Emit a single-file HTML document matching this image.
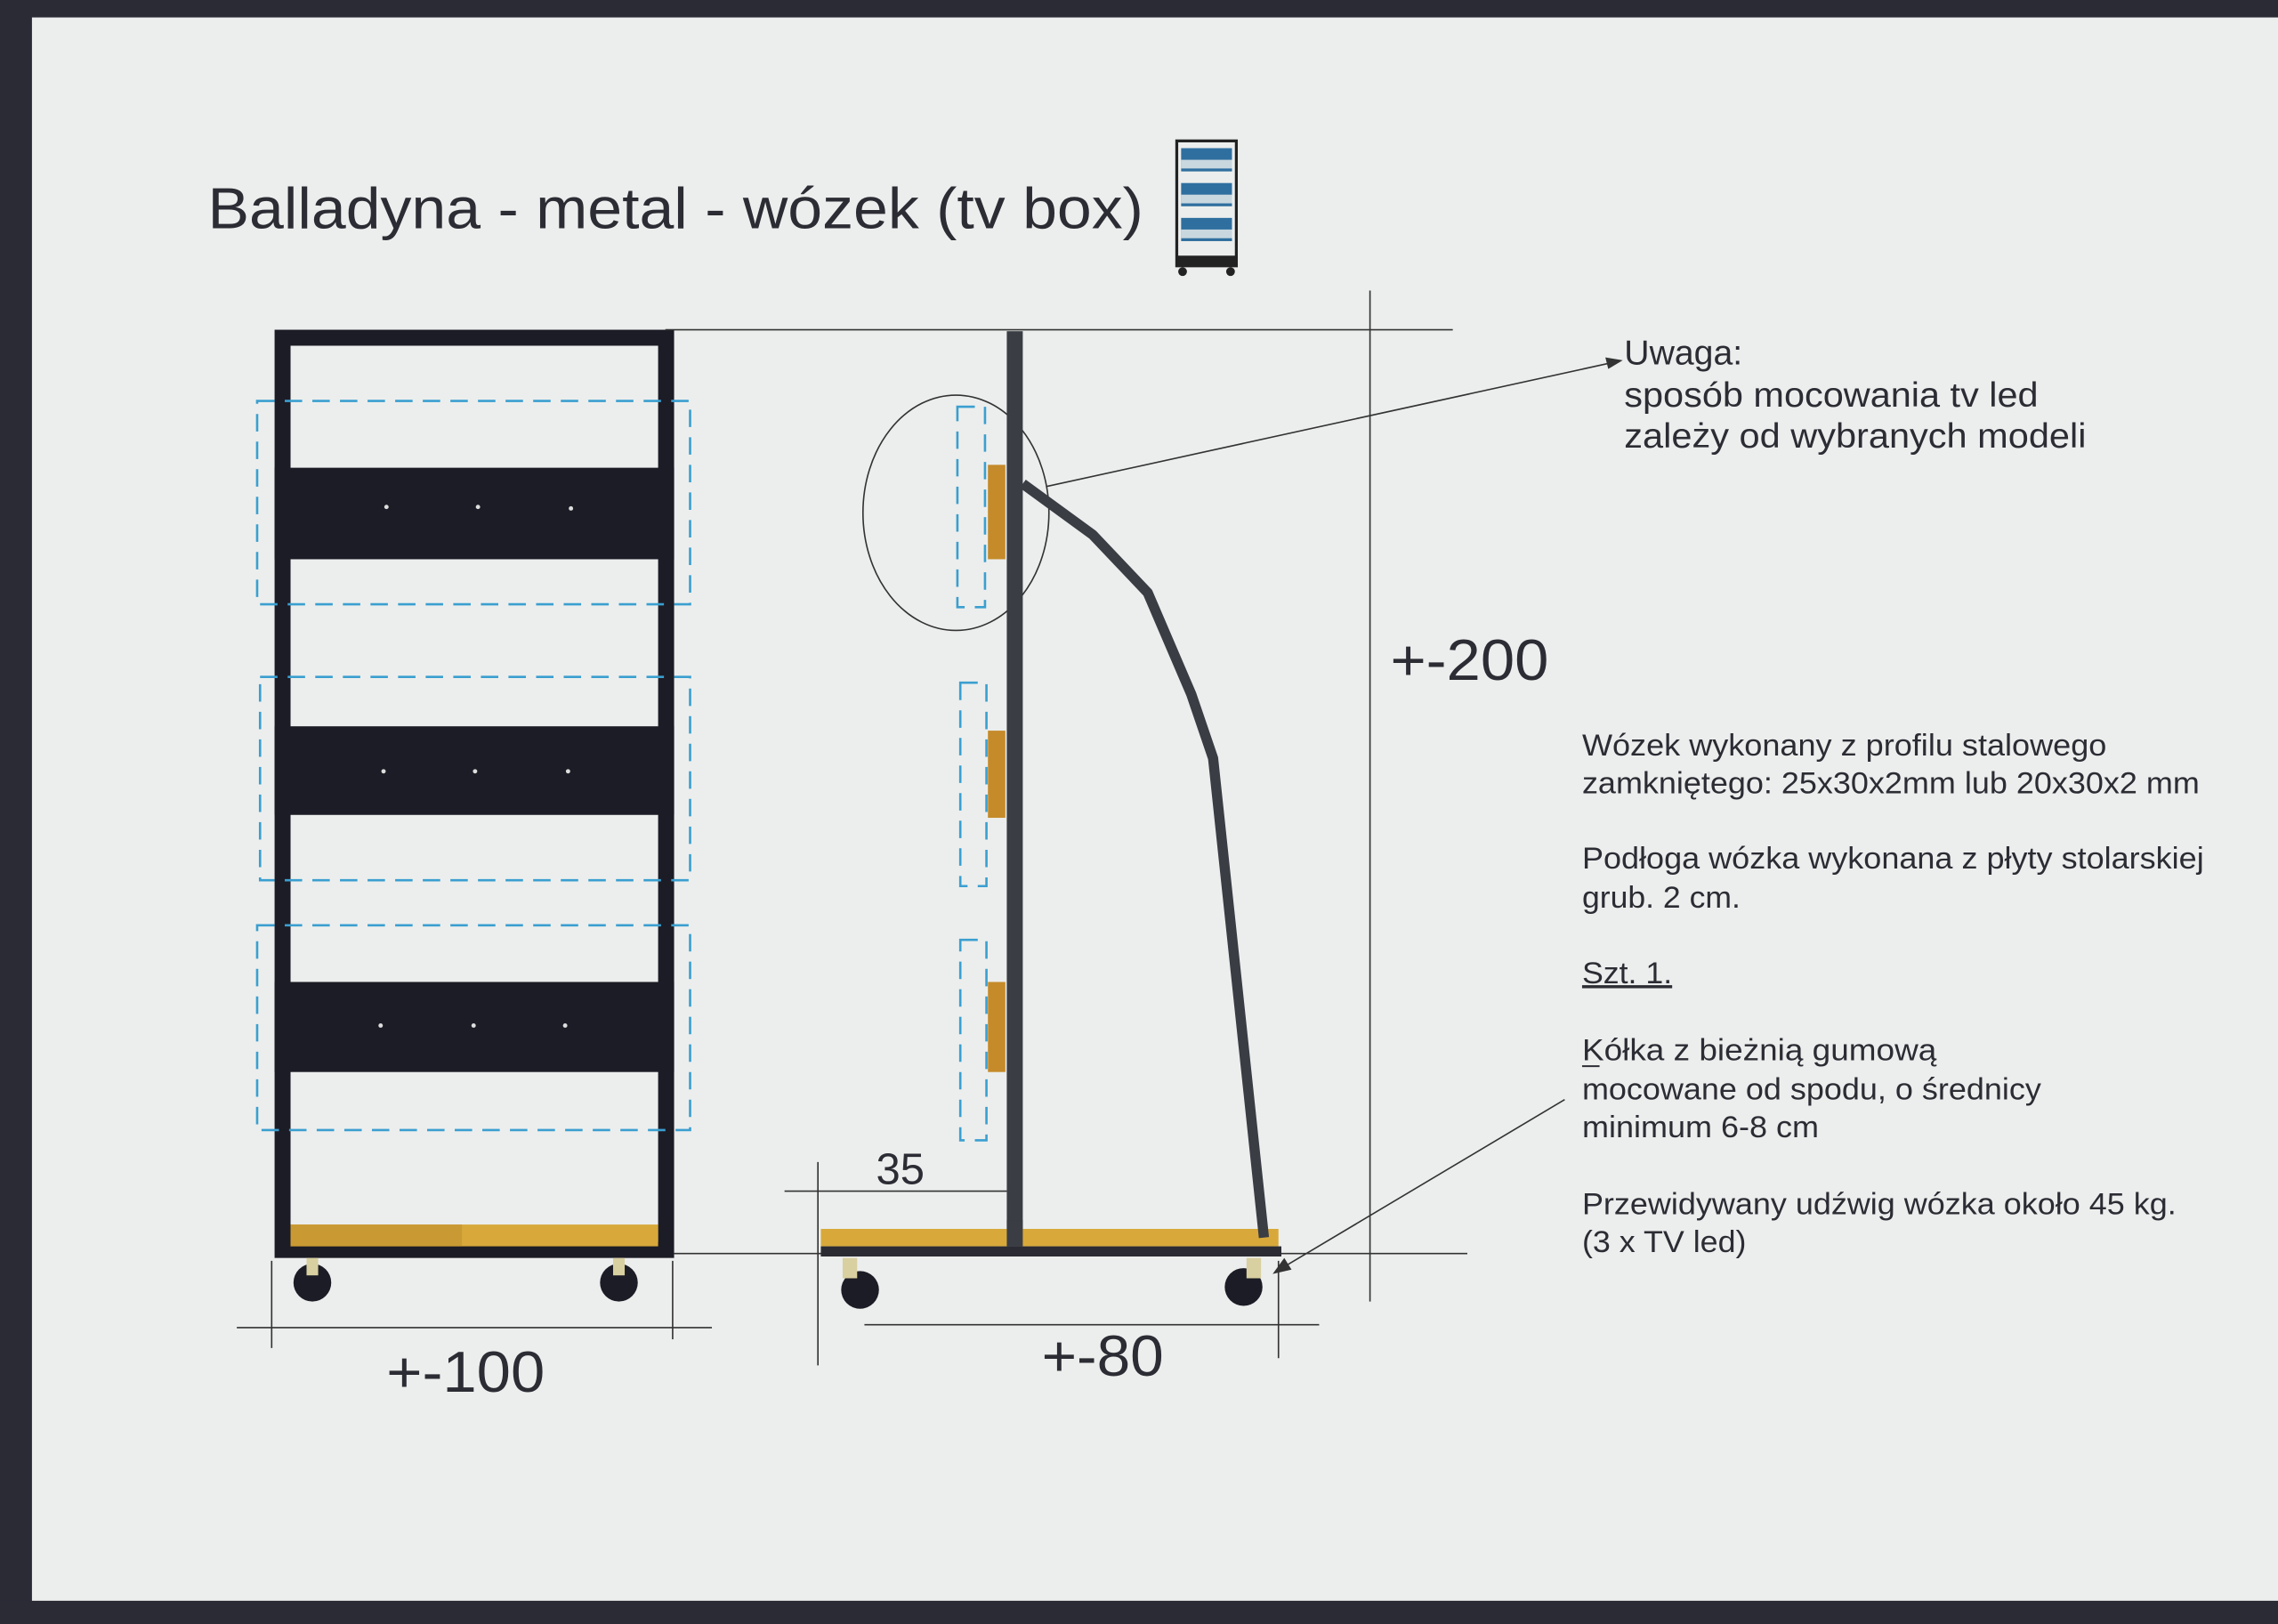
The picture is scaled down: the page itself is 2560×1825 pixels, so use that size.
<!DOCTYPE html>
<html><head><meta charset="utf-8"><style>
html,body{margin:0;padding:0;background:#eceeed;}
svg{display:block}
text{font-family:"Liberation Sans",sans-serif;fill:#2c2c34}
</style></head><body>
<svg width="2560" height="1825" viewBox="0 0 1568 1118" preserveAspectRatio="none" xmlns="http://www.w3.org/2000/svg">
<rect x="0" y="0" width="1568" height="1118" fill="#eceeed"/>
<rect x="0" y="0" width="1568" height="12" fill="#2b2b36"/>
<rect x="0" y="0" width="22" height="1118" fill="#2b2b36"/>
<rect x="0" y="1102" width="1568" height="16" fill="#2b2b36"/>
<text x="143" y="157" font-size="40" textLength="644" lengthAdjust="spacingAndGlyphs">Balladyna - metal - wózek (tv box)</text>
<!-- icon -->
<g>
<rect x="810" y="97" width="41" height="86" fill="none" stroke="#222" stroke-width="2"/>
<rect x="813" y="102" width="35" height="16" fill="#2f6f9f"/><rect x="813" y="110" width="35" height="6" fill="#c9d7df"/>
<rect x="813" y="126" width="35" height="16" fill="#2f6f9f"/><rect x="813" y="134" width="35" height="6" fill="#c9d7df"/>
<rect x="813" y="150" width="35" height="16" fill="#2f6f9f"/><rect x="813" y="158" width="35" height="6" fill="#c9d7df"/>
<rect x="810" y="176" width="41" height="7" fill="#222"/>
<circle cx="814" cy="187" r="3" fill="#222"/><circle cx="847" cy="187" r="3" fill="#222"/>
</g>
<!-- left front view -->
<rect x="194.5" y="232.5" width="264" height="628" fill="none" stroke="#1c1c26" stroke-width="11"/>
<rect x="189" y="322" width="275" height="63" fill="#1c1c26"/>
<rect x="189" y="500" width="275" height="61" fill="#1c1c26"/>
<rect x="189" y="676" width="275" height="62" fill="#1c1c26"/>
<g fill="#ddd"><circle cx="266" cy="349" r="1.5"/><circle cx="329" cy="349" r="1.5"/><circle cx="393" cy="350" r="1.5"/>
<circle cx="264" cy="531" r="1.5"/><circle cx="327" cy="531" r="1.5"/><circle cx="391" cy="531" r="1.5"/>
<circle cx="262" cy="706" r="1.5"/><circle cx="326" cy="706" r="1.5"/><circle cx="389" cy="706" r="1.5"/></g>
<rect x="200" y="843" width="253" height="15" fill="#d8a93a"/>
<rect x="200" y="843" width="118" height="15" fill="#c99a33"/>
<g fill="#1c1c26"><circle cx="215" cy="883" r="13"/><circle cx="426" cy="883" r="13"/></g>
<g fill="#d8d0a0"><rect x="211" y="866" width="8" height="12"/><rect x="422" y="866" width="8" height="12"/></g>
<g fill="none" stroke="#3a9fd0" stroke-width="1.6" stroke-dasharray="12,7">
<rect x="177" y="276" width="298" height="140"/>
<rect x="179" y="466" width="296" height="140"/>
<rect x="177" y="637" width="298" height="141"/>
<rect x="659" y="280" width="19" height="138"/>
<rect x="661" y="470" width="18" height="140"/>
<rect x="661" y="647" width="18" height="138"/>
</g>
<!-- dimension lines -->
<g stroke="#333" stroke-width="1" fill="none">
<line x1="163" y1="914" x2="490" y2="914"/>
<line x1="187" y1="868" x2="187" y2="928"/>
<line x1="463" y1="868" x2="463" y2="922"/>
<line x1="458" y1="227" x2="1000" y2="227"/>
<line x1="464" y1="863" x2="1010" y2="863"/>
<line x1="943" y1="200" x2="943" y2="896"/>
<line x1="540" y1="820" x2="693" y2="820"/>
<line x1="563" y1="800" x2="563" y2="940"/>
<line x1="595" y1="912" x2="908" y2="912"/>
<line x1="880" y1="868" x2="880" y2="935"/>
<ellipse cx="658" cy="353" rx="64" ry="81"/>
<line x1="720" y1="335" x2="1108" y2="250"/>
<line x1="1077" y1="757" x2="884" y2="872"/>
</g>
<polygon points="1117,248 1105,246 1107,254" fill="#333"/>
<polygon points="876,877 884,866 889,874" fill="#333"/>
<text x="266" y="958" font-size="40" textLength="109" lengthAdjust="spacingAndGlyphs">+-100</text>
<text x="717" y="947" font-size="40" textLength="84" lengthAdjust="spacingAndGlyphs">+-80</text>
<text x="957" y="468" font-size="40" textLength="109" lengthAdjust="spacingAndGlyphs">+-200</text>
<text x="603" y="815" font-size="30">35</text>
<!-- side view -->
<rect x="693" y="228" width="11" height="630" fill="#3a3d44"/>
<rect x="565" y="846" width="315" height="12" fill="#d8a93a"/>
<rect x="565" y="858" width="317" height="7" fill="#2b2b33"/>
<rect x="693" y="840" width="11" height="18" fill="#3a3d44"/>
<g fill="#c58b2a"><rect x="680" y="320" width="12" height="65"/><rect x="680" y="503" width="12" height="60"/><rect x="680" y="676" width="12" height="62"/></g>
<path d="M704 333 L752 368 L790 408 L820 478 L835 522 L870 852" fill="none" stroke="#3a3d44" stroke-width="7" stroke-linejoin="round"/>
<g fill="#1c1c26"><circle cx="592" cy="888" r="13"/><circle cx="856" cy="886" r="13"/></g>
<g fill="#d8d0a0"><rect x="580" y="866" width="10" height="14"/><rect x="858" y="866" width="10" height="14"/></g>
<!-- notes -->
<g font-size="24" lengthAdjust="spacingAndGlyphs">
<text x="1118" y="251">Uwaga:</text>
<text x="1118" y="280" textLength="285" lengthAdjust="spacingAndGlyphs">sposób mocowania tv led</text>
<text x="1118" y="308" textLength="318" lengthAdjust="spacingAndGlyphs">zależy od wybranych modeli</text>
</g>
<g font-size="21">
<text x="1089" y="520" textLength="361" lengthAdjust="spacingAndGlyphs">Wózek wykonany z profilu stalowego</text>
<text x="1089" y="546" textLength="425" lengthAdjust="spacingAndGlyphs">zamkniętego: 25x30x2mm lub 20x30x2 mm</text>
<text x="1089" y="598" textLength="428" lengthAdjust="spacingAndGlyphs">Podłoga wózka wykonana z płyty stolarskiej</text>
<text x="1089" y="625" textLength="109" lengthAdjust="spacingAndGlyphs">grub. 2 cm.</text>
<text x="1089" y="677" text-decoration="underline" textLength="62" lengthAdjust="spacingAndGlyphs">Szt. 1.</text>
<text x="1089" y="730" textLength="244" lengthAdjust="spacingAndGlyphs">Kółka  z bieżnią gumową</text>
<text x="1089" y="757" textLength="316" lengthAdjust="spacingAndGlyphs">mocowane od spodu, o średnicy</text>
<text x="1089" y="783" textLength="163" lengthAdjust="spacingAndGlyphs">minimum 6-8 cm</text>
<text x="1089" y="836" textLength="409" lengthAdjust="spacingAndGlyphs">Przewidywany udźwig wózka około 45 kg.</text>
<text x="1089" y="862" textLength="113" lengthAdjust="spacingAndGlyphs">(3 x TV led)</text>
</g>
<line x1="1089" y1="734" x2="1101" y2="734" stroke="#2c2c34" stroke-width="1.2"/>
</svg>
</body></html>
